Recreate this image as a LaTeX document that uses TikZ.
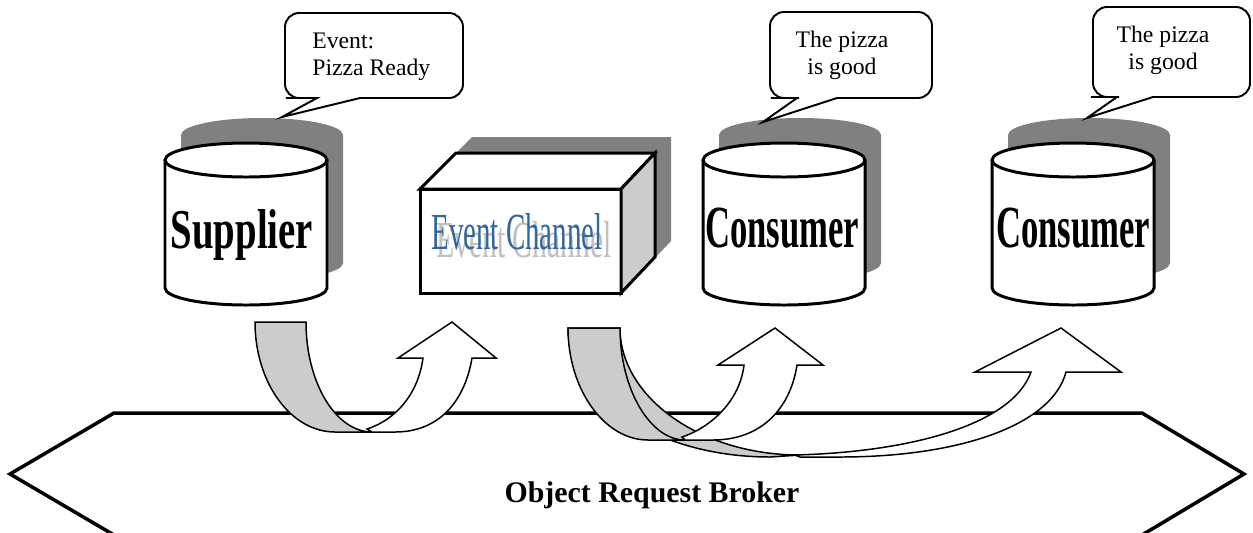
\documentclass[tikz,border=0pt]{standalone}
\usepackage{fontspec}
\setmainfont{Liberation Serif}
\usetikzlibrary{positioning}
\definecolor{shadowgray}{HTML}{808080}
\definecolor{bandgray}{HTML}{CCCCCC}
\definecolor{sidegray}{HTML}{CCCCCC}
\definecolor{channelblue}{HTML}{336699}
\definecolor{echogray}{HTML}{C0C0C0}
\tikzset{%
	% Specifications for style of shapes:
	castshade/.style = {fill=shadowgray, draw=none},
	drum/.style = {draw=black, line width=1.7pt, fill=white},
	boxline/.style = {draw=black, line width=1.7pt},
	bubble/.style = {draw=black, line width=1.1pt, fill=white},
	band/.style = {draw=black, line width=0.85pt},
	bandback/.style = {band, fill=bandgray},
	bandfront/.style = {band, fill=white},
	orb/.style = {draw=black, line width=2pt, fill=white},
	% Specifications for style of texts:
	drumtext/.style = {inner sep=0pt, font=\fontsize{32}{36}\selectfont\bfseries},
	notetext/.style = {inner sep=0pt, font=\fontsize{13.5}{15.4}\selectfont},
}

\begin{document}
\begin{tikzpicture}[x=0.02cm,y=-0.02cm]
		\useasboundingbox (0,0) rectangle (1253,532);
		
		% broker
		\draw[orb] (114,413) -- (1142,413) -- (1244,474) -- (1142,535) -- (114,535) -- (10,474) -- cycle;
		\node (Broker) at (652,495) {\fontsize{17}{20}\selectfont\bfseries Object Request Broker};
		
		% shadows
		\fill[castshade] (181,135) arc[start angle=180,end angle=360,x radius=81,y radius=17] -- (343,263) arc[start angle=0,end angle=180,x radius=81,y radius=17] -- cycle;
		\fill[castshade] (719,135) arc[start angle=180,end angle=360,x radius=81,y radius=17] -- (881,263) arc[start angle=0,end angle=180,x radius=81,y radius=17] -- cycle;
		\fill[castshade] (1008,135) arc[start angle=180,end angle=360,x radius=81,y radius=17] -- (1170,263) arc[start angle=0,end angle=180,x radius=81,y radius=17] -- cycle;
		\fill[castshade] (436,173) -- (472,137) -- (671,137) -- (671,241) -- (637,277) -- (436,277) -- cycle;
		
		% drums
		\draw[drum] (165,160) -- (165,288) arc[start angle=180,end angle=0,x radius=81,y radius=17] -- (327,160);
		\draw[drum] (246,160) ellipse [x radius=81, y radius=17];
		\draw[drum] (703,160) -- (703,288) arc[start angle=180,end angle=0,x radius=81,y radius=17] -- (865,160);
		\draw[drum] (784,160) ellipse [x radius=81, y radius=17];
		\draw[drum] (992,160) -- (992,288) arc[start angle=180,end angle=0,x radius=81,y radius=17] -- (1154,160);
		\draw[drum] (1073,160) ellipse [x radius=81, y radius=17];
		
		% channel box
		\draw[boxline, fill=white] (420,189) rectangle (621,293);
		\draw[boxline, fill=white] (420,189) -- (456,153) -- (655,153) -- (621,189) -- cycle;
		\draw[boxline, fill=sidegray] (621,189) -- (655,153) -- (655,257) -- (621,293) -- cycle;
		
		% callouts
		\draw[bubble] (400,13) [rounded corners=8pt] -- (285,13) -- (285,98) -- (300,98) [sharp corners] -- (317,98) -- (282,117) -- (360,98) -- (380,98) [rounded corners=8pt] -- (463,98) -- (463,13) -- cycle;
		\draw[bubble] (850,12) [rounded corners=8pt] -- (770,12) -- (770,98) -- (785,98) [sharp corners] -- (797,98) -- (763,122) -- (837,98) -- (850,98) [rounded corners=8pt] -- (932,98) -- (932,12) -- cycle;
		\draw[bubble] (1170,7) [rounded corners=8pt] -- (1093,7) -- (1093,97) -- (1105,97) [sharp corners] -- (1117,97) -- (1087,118) -- (1153,97) -- (1165,97) [rounded corners=8pt] -- (1250,97) -- (1250,7) -- cycle;
		
		% curved arrows
		\draw[bandback] (568,328) -- (620,328) .. controls (620,397) and (700,455) .. (800,455) -- (770,457) .. controls (658,457) and (568,398) .. (568,328) -- cycle;
		\draw[bandfront] (795,455) .. controls (910,452) and (1012,425) .. (1031,372) -- (975,372) -- (1061,328) -- (1121,372) -- (1066,372) .. controls (1052,425) and (960,457) .. (840,457) -- (800,457) -- cycle;
		\draw[bandback] (568,328) -- (620,328) .. controls (620,389) and (650,440) .. (685,440) -- (648,440) .. controls (604,440) and (568,389) .. (568,328) -- cycle;
		\draw[bandfront] (682,437) .. controls (712,427) and (740,400) .. (744,365) -- (718,365) -- (775,328) -- (823,365) -- (797,365) .. controls (790,410) and (760,440) .. (713,440) -- (685,440) -- cycle;
		\draw[bandback] (255,322) -- (306,322) .. controls (306,383) and (336,432) .. (372,432) -- (335,432) .. controls (291,432) and (255,383) .. (255,322) -- cycle;
		\draw[bandfront] (367,429) .. controls (395,420) and (418,395) .. (423,358) -- (398,358) -- (452,322) -- (496,358) -- (472,358) .. controls (465,400) and (440,432) .. (395,432) -- (372,432) -- cycle;
		
		% texts
		\node (Supplier) [drumtext] at (242,235) {\scalebox{0.69}[1]{Supplier}};
		\node (ConsumerA) [drumtext] at (782,228) {\fontsize{34}{38}\selectfont\scalebox{0.58}[1]{Consumer}};
		\node (ConsumerB) [drumtext] at (1073,228) {\fontsize{34}{38}\selectfont\scalebox{0.58}[1]{Consumer}};
		\node (ChannelEcho) [inner sep=0pt, text=echogray] at (524,240) {\fontsize{29.6}{33}\selectfont\scalebox{0.57}[1]{Event Channel}};
		\node (Channel) [inner sep=0pt, text=channelblue] at (517,232) {\fontsize{29.6}{33}\selectfont\scalebox{0.556}[1]{Event Channel}};
		
		\node (SupNote) [notetext, align=left, anchor=north west] at (312,33) {Event:\\Pizza Ready};
		\node (ConANote) [notetext, align=center, anchor=north] at (842,31) {The pizza\\is good};
		\node (ConBNote) [notetext, align=center, anchor=north] at (1163,26) {The pizza\\is good};
		
\end{tikzpicture}
\end{document}
